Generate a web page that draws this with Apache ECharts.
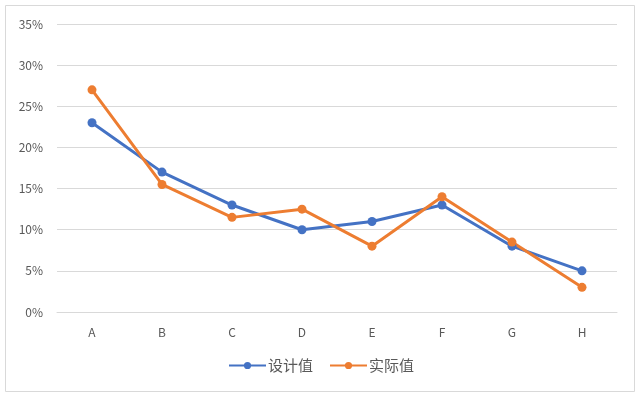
<!DOCTYPE html>
<html><head><meta charset="utf-8">
<script src="https://cdn.jsdelivr.net/npm/echarts@6/dist/echarts.min.js"></script>
<style>html,body{margin:0;padding:0;background:#fff}#c{width:640px;height:397px}</style>
</head><body><div id="c"></div>
<script>
const categories = ['A','B','C','D','E','F','G','H'];
const designValues = [23, 17, 13, 10, 11, 13, 8, 5];
const actualValues = [27, 15.5, 11.5, 12.5, 8, 14, 8.5, 3];
const seriesNames = ['设计值', '实际值'];
const font = '"Noto Sans CJK SC", "Noto Sans", sans-serif';
const chart = echarts.init(document.getElementById('c'), null, {renderer:'canvas'});
chart.setOption({
  animation: false,
  backgroundColor: '#fff',
  graphic: [{type:'rect', shape:{x:5.5,y:5.5,width:629,height:386}, style:{fill:'none', stroke:'#d9d9d9', lineWidth:1}, silent:true, z:-1}],
  grid: {left: 57, right: 23, top: 24, bottom: 85},
  legend: {
    bottom: 19, left: 223, itemWidth: 37, itemHeight: 9, itemGap: 16,
    textStyle: {color:'#595959', fontSize: 15, fontFamily: font, padding:[0,0,0,-3]},
    data: seriesNames
  },
  xAxis: {
    type:'category', data: categories, boundaryGap: true,
    axisLine:{lineStyle:{color:'#d9d9d9', width:1}},
    axisTick:{show:false},
    axisLabel:{color:'#595959', fontSize:12, fontFamily: font, margin: 14}
  },
  yAxis: {
    type:'value', min:0, max:35, interval:5,
    axisLine:{show:false}, axisTick:{show:false},
    splitLine:{lineStyle:{color:'#d9d9d9', width:1}},
    axisLabel:{color:'#595959', fontSize:12, fontFamily: font, margin: 14, formatter: v => v + '%'}
  },
  series: [
    {name: seriesNames[0], type:'line', data: designValues, symbol:'circle', symbolSize:9,
     itemStyle:{color:'#4472C4'}, lineStyle:{width:3, color:'#4472C4'}},
    {name: seriesNames[1], type:'line', data: actualValues, symbol:'circle', symbolSize:9,
     itemStyle:{color:'#ED7D31'}, lineStyle:{width:3, color:'#ED7D31'}}
  ]
});
</script></body></html>
